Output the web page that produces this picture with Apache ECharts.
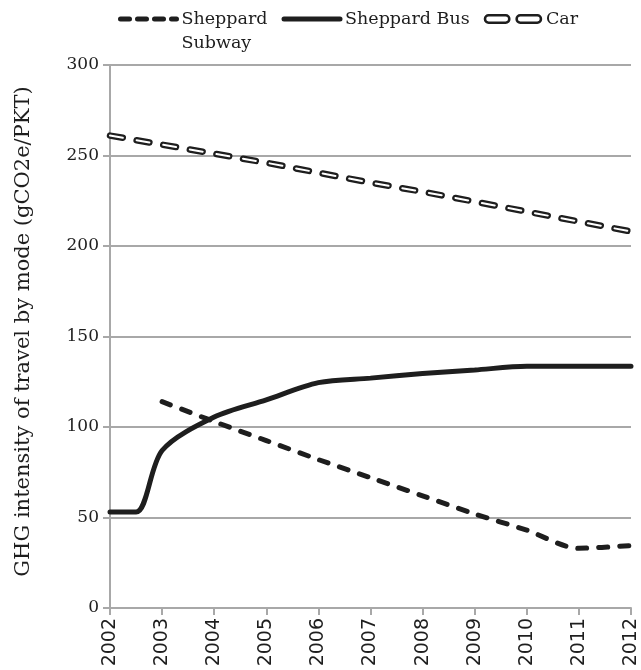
<!DOCTYPE html>
<html>
<head>
<meta charset="utf-8">
<script src="https://cdn.jsdelivr.net/npm/echarts@6/dist/echarts.min.js"></script>
<style>
html, body { margin: 0; padding: 0; background: #fff; }
#chart { width: 641px; height: 670px; }
</style>
</head>
<body>
<div id="chart"></div>
<script>
// values (gCO2e/PKT)
const subwayYears = [2003, 2004, 2005, 2006, 2007, 2008, 2009, 2010, 2011, 2012];
const subwayValues = [114, 103, 92.5, 82, 72, 62, 52, 43, 33, 34.5];
const busYears = [2002, 2002.5, 2003, 2004, 2005, 2006, 2007, 2008, 2009, 2010, 2011, 2012];
const busValues = [53, 53, 87, 105.5, 115, 124.5, 127, 129.5, 131.5, 133.5, 133.5, 133.5];
const carYears = [2002, 2003, 2004, 2005, 2006, 2007, 2008, 2009, 2010, 2011, 2012];
const carValues = [261, 256, 251, 246, 240.5, 235, 230, 224.5, 219, 213.5, 208];

const ink = '#1e1e1e';
const gridGray = '#a8a8a8';
const pairs = (xs, ys) => xs.map((x, i) => [x, ys[i]]);

const chart = echarts.init(document.getElementById('chart'));
chart.setOption({
	animation: false,
	grid: {
		left: 110,
		right: 10,
		top: 65,
		bottom: 62,
		containLabel: false,
		outerBoundsMode: 'none'
	},
	legend: {
		left: 113,
		top: -22,
		selectedMode: false,
		itemWidth: 56,
		itemHeight: 10,
		itemGap: 14,
		// blank first line keeps "Sheppard" level with the icon
		formatter: name => name === 'Sheppard Subway' ? '\nSheppard\nSubway' : name,
		textStyle: {
			fontFamily: 'DejaVu Serif',
			fontSize: 17.5,
			color: ink,
			lineHeight: 24
		},
		data: [
			{
				name: 'Sheppard Subway',
				itemStyle: { opacity: 0 },
				lineStyle: { color: ink, width: 5, type: [9, 8], cap: 'round' }
			},
			{
				name: 'Sheppard Bus',
				itemStyle: { opacity: 0 },
				lineStyle: { color: ink, width: 5, cap: 'round' }
			},
			{
				name: 'Car',
				icon: 'path://M3,0 H17 A3,3 0 0 1 17,6 H3 A3,3 0 0 1 3,0 Z M29,0 H43 A3,3 0 0 1 43,6 H29 A3,3 0 0 1 29,0 Z',
				itemStyle: { color: '#fff', borderColor: ink, borderWidth: 2.5, opacity: 1 }
			}
		]
	},
	xAxis: {
		type: 'value',
		min: 2002,
		max: 2012,
		interval: 1,
		splitLine: { show: false },
		axisLine: { lineStyle: { color: gridGray, width: 2 } },
		axisTick: { show: true, length: 7, lineStyle: { color: gridGray, width: 2 } },
		axisLabel: {
			rotate: 90,
			margin: 10,
			fontFamily: 'DejaVu Sans',
			fontSize: 19,
			color: ink,
			formatter: v => String(v)
		}
	},
	yAxis: {
		type: 'value',
		min: 0,
		max: 300,
		interval: 50,
		name: 'GHG intensity of travel by mode (gCO2e/PKT)',
		nameLocation: 'middle',
		nameGap: 76,
		nameTextStyle: {
			fontFamily: 'DejaVu Serif',
			fontSize: 21,
			color: ink,
			padding: [0, 0, 0, 10]
		},
		axisLine: { show: true, lineStyle: { color: gridGray, width: 2 } },
		axisTick: { show: true, length: 7, lineStyle: { color: gridGray, width: 2 } },
		splitLine: { lineStyle: { color: gridGray, width: 2 } },
		axisLabel: {
			margin: 11,
			fontFamily: 'DejaVu Serif',
			fontSize: 17,
			color: ink
		}
	},
	series: [
		{
			name: 'Sheppard Subway',
			type: 'line',
			smooth: 0.3,
			symbol: 'none',
			data: pairs(subwayYears, subwayValues),
			lineStyle: { color: ink, width: 5, type: [9, 12], cap: 'round' },
			z: 3
		},
		{
			name: 'Sheppard Bus',
			type: 'line',
			smooth: 0.3,
			symbol: 'none',
			data: pairs(busYears, busValues),
			lineStyle: { color: ink, width: 5, cap: 'round' },
			z: 4
		},
		{
			name: 'Car',
			type: 'line',
			symbol: 'none',
			data: pairs(carYears, carValues),
			lineStyle: { color: ink, width: 6.5, type: [13, 14], cap: 'round' },
			z: 5
		},
		{
			name: 'Car',
			type: 'line',
			symbol: 'none',
			data: pairs(carYears, carValues),
			lineStyle: { color: '#fff', width: 2, type: [13, 14], cap: 'round' },
			z: 6
		}
	]
});
</script>
</body>
</html>
